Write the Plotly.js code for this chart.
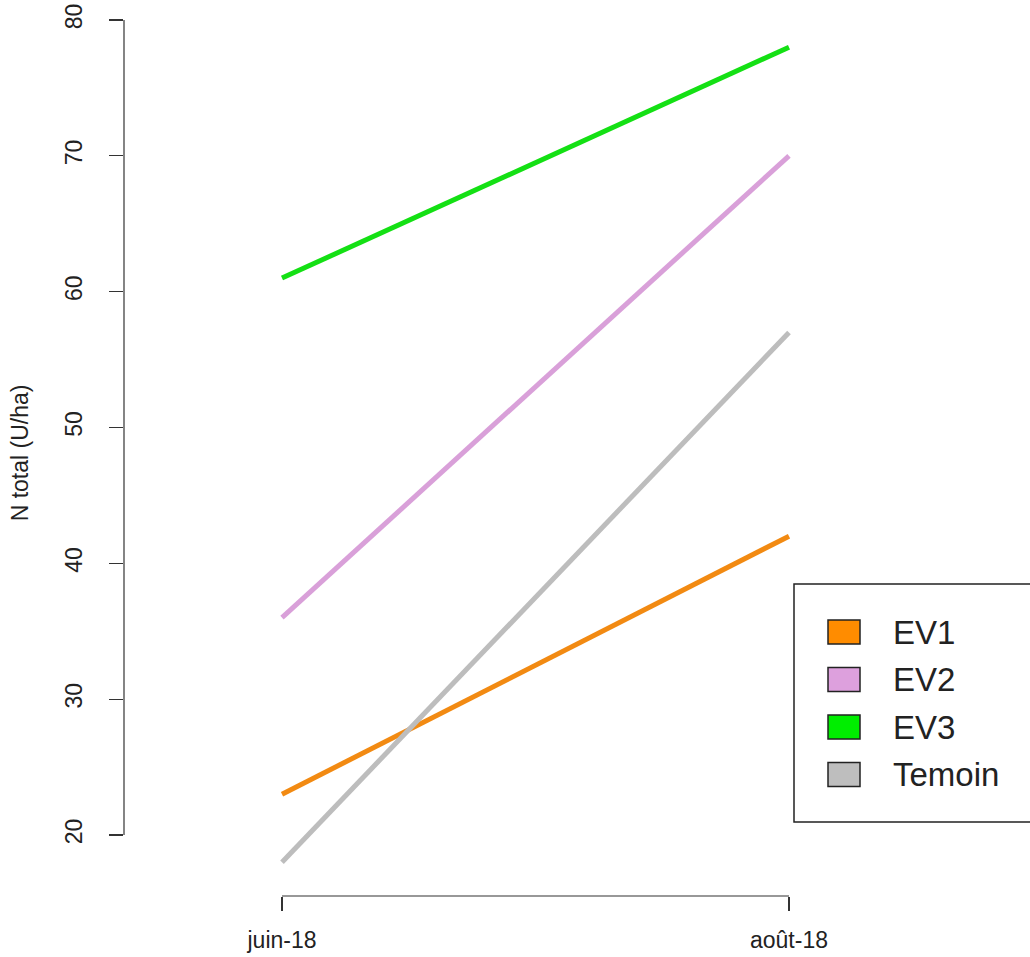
<!DOCTYPE html>
<html><head><meta charset="utf-8">
<script src="https://cdn.plot.ly/plotly-3.0.1.min.js"></script>
<style>html,body{margin:0;padding:0;background:#fff;}#chart{width:1030px;height:957px;}</style>
</head><body><div id="chart"></div>
<script>
const months = ["juin-18", "août-18"];
const seriesNames = ["EV1", "EV2", "EV3", "Temoin"];
const ev1 = [23, 42];
const ev2 = [36, 70];
const ev3 = [61, 78];
const temoin = [18, 57];
const yTicks = [20, 30, 40, 50, 60, 70, 80];
const colors = ["#FF8C00", "#DDA0DD", "#00EE00", "#BEBEBE"];
const lineColors = ["#F28A12", "#D9A0D9", "#14E014", "#BDBDBD"];

const values = [ev1, ev2, ev3, temoin];
const xIdx = months.map((m, i) => i);
const font = "Liberation Sans, Arial, Helvetica, sans-serif";

const traces = values.map((v, k) => ({
  x: xIdx, y: v, type: "scatter", mode: "lines", name: seriesNames[k],
  line: {color: lineColors[k], width: 5},
  showlegend: false, hoverinfo: "skip"
}));

const W = 1030, H = 957;
const L = 124, R = 1030, T = 10, B = 896;
const pxPerCat = 507, catLeft = 282;
const pxPerUnit = (835 - 20) / 60;
const px = p => (p - L) / (R - L);
const py = p => (B - p) / (B - T);

// manual legend (box, swatches, labels)
const legTop = 584, legBottom = 822, legLeft = 794;
const itemY0 = 632, itemStep = 47.5;
const swL = 828, swR = 860, swH = 24, textX = 891;

const shapes = [
  {type: "line", xref: "paper", yref: "y", x0: 0, x1: 0,
   y0: yTicks[0], y1: yTicks[yTicks.length - 1], line: {color: "#333", width: 1.2}},
  {type: "line", xref: "x", yref: "paper", x0: xIdx[0], x1: xIdx[xIdx.length - 1],
   y0: 0, y1: 0, line: {color: "#333", width: 1.2}},
  {type: "rect", xref: "paper", yref: "paper",
   x0: px(legLeft), x1: px(1040), y0: py(legBottom), y1: py(legTop),
   line: {color: "#222", width: 1.5}, fillcolor: "rgba(0,0,0,0)"}
];
const annotations = [];
seriesNames.forEach((name, k) => {
  const cy = itemY0 + k * itemStep;
  shapes.push({type: "rect", xref: "paper", yref: "paper",
    x0: px(swL), x1: px(swR), y0: py(cy + swH / 2), y1: py(cy - swH / 2),
    fillcolor: colors[k], line: {color: "#222", width: 1.5}});
  annotations.push({xref: "paper", yref: "paper", x: px(textX), y: py(cy),
    xanchor: "left", yanchor: "middle", text: name, showarrow: false,
    font: {size: 33, family: font, color: "#222"}});
});

const layout = {
  width: W, height: H,
  margin: {l: L, r: W - R, t: T, b: H - B, autoexpand: false},
  paper_bgcolor: "#fff", plot_bgcolor: "#fff",
  font: {family: font, color: "#222"},
  showlegend: false,
  xaxis: {
    range: [-(catLeft - L) / pxPerCat, (R - catLeft) / pxPerCat],
    tickmode: "array", tickvals: xIdx, ticktext: months,
    showgrid: false, zeroline: false, showline: false,
    ticks: "outside", ticklen: 14, tickwidth: 1.2, tickcolor: "#333",
    tickfont: {size: 23, family: font, color: "#222"},
    ticklabelstandoff: 9
  },
  yaxis: {
    range: [20 - (B - 835) / pxPerUnit, 80 + (20 - T) / pxPerUnit],
    tickmode: "array", tickvals: yTicks,
    showgrid: false, zeroline: false, showline: false,
    ticks: "outside", ticklen: 14, tickwidth: 1.2, tickcolor: "#333",
    tickangle: -90,
    tickfont: {size: 23, family: font, color: "#222"},
    ticklabelstandoff: 18,
    title: {text: "N total (U/ha)", font: {size: 23, family: font, color: "#222"}, standoff: 25}
  },
  shapes: shapes,
  annotations: annotations
};

Plotly.newPlot("chart", traces, layout, {displayModeBar: false, staticPlot: true});
</script>
</body></html>
